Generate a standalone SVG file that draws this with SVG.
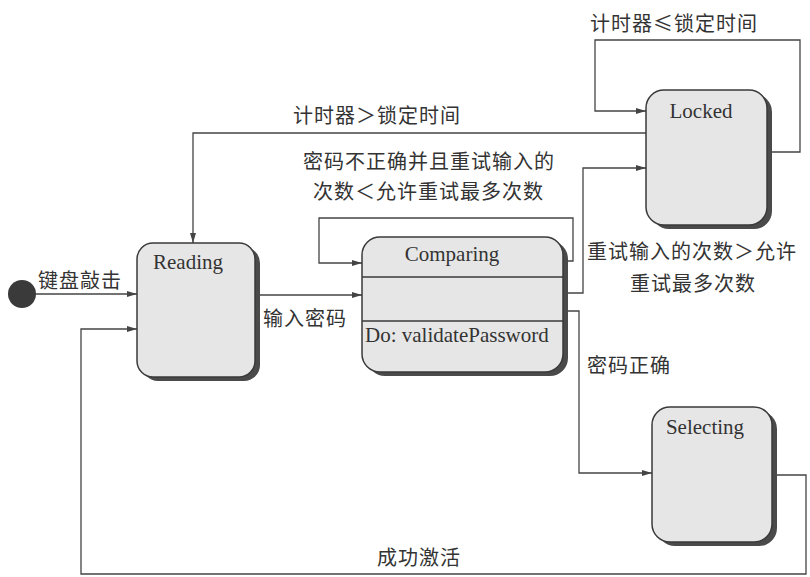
<svg xmlns="http://www.w3.org/2000/svg" width="810" height="577" viewBox="0 0 810 577">
<style>
.bg{fill:#ffffff}
.shadow{fill:#4a4a4a}
.box{fill:#e6e6e6;stroke:#3a3a3a;stroke-width:1.5}
.div{stroke:#3a3a3a;stroke-width:1.5}
.en{font-family:"Liberation Serif","Times New Roman",serif;font-size:21px;fill:#333}
.zh{font-family:"Noto Sans CJK SC","Noto Sans",sans-serif;font-size:20px;fill:#333;letter-spacing:1px}
.conn{fill:none;stroke:#444;stroke-width:1.3}
</style>
<defs>
<marker id="arr" viewBox="0 0 10 6" refX="10" refY="3" markerWidth="10" markerHeight="6" markerUnits="userSpaceOnUse" orient="auto">
<path d="M0,0 L10,3 L0,6 Z" fill="#444"/>
</marker>
</defs>
<rect class="bg" x="0" y="0" width="810" height="577"/>

<g id="connectors">
<path class="conn" d="M35,294 H137" marker-end="url(#arr)"/>
<path class="conn" d="M255,295 H362" marker-end="url(#arr)"/>
<path class="conn" d="M563,261 H573 V218 H319 V263 H362" marker-end="url(#arr)"/>
<path class="conn" d="M563,293 H583 V168 H646" marker-end="url(#arr)"/>
<path class="conn" d="M563,311 H579 V473 H652" marker-end="url(#arr)"/>
<path class="conn" d="M646,133 H193 V243" marker-end="url(#arr)"/>
<path class="conn" d="M768,152 H800 V40 H595 V111 H646" marker-end="url(#arr)"/>
<path class="conn" d="M772,475 H806 V574 H81 V329 H137" marker-end="url(#arr)"/>
</g>

<g id="initial">
<circle cx="22" cy="294" r="14" fill="#3a3a3a"/>
</g>

<g id="reading">
<rect class="shadow" x="142" y="247" width="118" height="134" rx="16"/>
<rect class="box" x="137" y="243" width="118" height="134" rx="16"/>
<text class="en" x="188" y="269" text-anchor="middle">Reading</text>
</g>

<g id="comparing">
<rect class="shadow" x="367" y="241" width="201" height="135" rx="18"/>
<rect class="box" x="362" y="237" width="201" height="135" rx="18"/>
<line class="div" x1="362" y1="277" x2="563" y2="277"/>
<line class="div" x1="362" y1="321" x2="563" y2="321"/>
<text class="en" x="452" y="261" text-anchor="middle">Comparing</text>
<text class="en" x="365" y="342">Do: validatePassword</text>
</g>

<g id="locked">
<rect class="shadow" x="651" y="94" width="121" height="135" rx="18"/>
<rect class="box" x="646" y="90" width="121" height="135" rx="18"/>
<text class="en" x="701" y="118" text-anchor="middle">Locked</text>
</g>

<g id="selecting">
<rect class="shadow" x="657" y="411" width="120" height="135" rx="18"/>
<rect class="box" x="652" y="407" width="120" height="135" rx="18"/>
<text class="en" x="705" y="434" text-anchor="middle">Selecting</text>
</g>

<g id="labels">
<text class="zh" x="38" y="288">键盘敲击</text>
<text class="zh" x="263" y="326">输入密码</text>
<text class="zh" x="293" y="123">计时器＞锁定时间</text>
<text class="zh" x="303" y="169">密码不正确并且重试输入的</text>
<text class="zh" x="313" y="199">次数＜允许重试最多次数</text>
<text class="zh" x="590" y="31">计时器≤锁定时间</text>
<text class="zh" x="587" y="259">重试输入的次数＞允许</text>
<text class="zh" x="630" y="291">重试最多次数</text>
<text class="zh" x="587" y="373">密码正确</text>
<text class="zh" x="377" y="565">成功激活</text>
</g>
</svg>
